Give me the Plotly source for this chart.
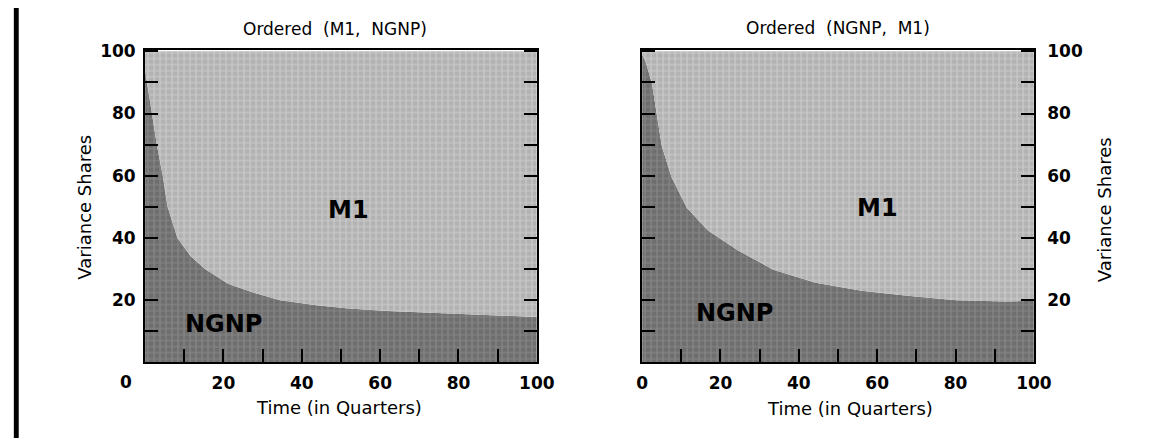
import plotly.graph_objects as go

# ---- data ----
left_title = "Ordered  (M1,  NGNP)"
right_title = "Ordered  (NGNP,  M1)"

left_time = [0, 1, 2, 3, 4.5, 5.75, 8.25, 11.6, 15.3, 21.2, 27, 34.5, 43.7, 52, 62, 77, 89.5, 100]
left_ngnp = [94, 86, 78, 70, 60, 50, 40, 34.2, 30, 25.3, 22.7, 20, 18.4, 17.3, 16.5, 15.7, 15.2, 14.6]

right_time = [0, 0.8, 2.5, 3.7, 5, 7.5, 11.4, 16.8, 24.3, 33.5, 44.3, 56, 67.7, 80.2, 92.7, 100]
right_ngnp = [99, 97, 89.7, 79.6, 69.6, 59.6, 49.7, 42.4, 36.1, 29.8, 25.6, 23, 21.4, 20, 19.6, 19.8]

left_m1 = [100 - v for v in left_ngnp]
right_m1 = [100 - v for v in right_ngnp]

x_tickvals = [0, 10, 20, 30, 40, 50, 60, 70, 80, 90, 100]
x_ticktext = ["0", "", "20", "", "40", "", "60", "", "80", "", "100"]
y_tickvals = [10, 20, 30, 40, 50, 60, 70, 80, 90, 100]
y_ticktext = ["", "20", "", "40", "", "60", "", "80", "", "100"]

W, H = 1165, 438
FONT = "DejaVu Sans"

ngnp_pat = dict(shape="+", bgcolor="#6e6e6e", fgcolor="#a2a2a2", size=6, solidity=0.35)
m1_pat = dict(shape="+", bgcolor="#b2b2b2", fgcolor="#e6e6e6", size=6, solidity=0.35)

fig = go.Figure()
for xa, ya, t, ng, m1, sg in [("x", "y", left_time, left_ngnp, left_m1, "L"),
                             ("x2", "y2", right_time, right_ngnp, right_m1, "R")]:
    fig.add_trace(go.Scatter(x=t, y=ng, xaxis=xa, yaxis=ya, stackgroup=sg, name="NGNP",
                             mode="lines", line=dict(width=0, color="#6e6e6e"),
                             fillcolor="#6e6e6e", fillpattern=ngnp_pat, showlegend=False,
                             hoverinfo="skip"))
    fig.add_trace(go.Scatter(x=t, y=m1, xaxis=xa, yaxis=ya, stackgroup=sg, name="M1",
                             mode="lines", line=dict(width=0, color="#b2b2b2"),
                             fillcolor="#b2b2b2", fillpattern=m1_pat, showlegend=False,
                             hoverinfo="skip"))

tickfont = dict(family=FONT, size=17, color="black", weight="bold")
common_x = dict(range=[0, 100], tickvals=x_tickvals, ticks="inside", ticklen=13, tickwidth=2,
                tickcolor="black", showline=True, linecolor="black", linewidth=2, mirror=True,
                showgrid=False, zeroline=False, tickfont=tickfont, ticklabelstandoff=4)
common_y = dict(range=[0, 100.5], tickvals=y_tickvals, ticktext=y_ticktext, ticks="inside",
                ticklen=13, tickwidth=2, tickcolor="black", showline=True, linecolor="black",
                linewidth=2, mirror="ticks", showgrid=False, zeroline=False, tickfont=tickfont)

ydom = [1 - 361 / H, 1 - 42.5 / H]
fig.update_layout(
    width=W, height=H, margin=dict(l=0, r=0, t=0, b=0),
    paper_bgcolor="white", plot_bgcolor="white",
    xaxis=dict(domain=[142 / W, 542 / W], anchor="y",
               ticktext=[""] + x_ticktext[1:], **common_x),
    yaxis=dict(domain=ydom, anchor="x", side="left", ticklabelstandoff=4, **common_y),
    xaxis2=dict(domain=[649.5 / W, 1049.5 / W], anchor="y2", ticktext=x_ticktext, **common_x),
    yaxis2=dict(domain=ydom, anchor="x2", side="right", ticklabelstandoff=8, **common_y),
)

def ann(text, x, y, size, bold=False, xref="paper", yref="paper", angle=0):
    fig.add_annotation(text=text, x=x, y=y, xref=xref, yref=yref, showarrow=False,
                       textangle=angle, xanchor="center", yanchor="middle",
                       font=dict(family=FONT, size=size, color="black",
                                 weight="bold" if bold else "normal"))

# panel titles
ann(left_title, 336 / W, 1 - 21 / H, 17)
ann(right_title, 849 / W, 1 - 20 / H, 17)
# axis titles
ann("Time (in Quarters)", 340 / W, 1 - 407 / H, 18)
ann("Time (in Quarters)", 862 / W, 1 - 408 / H, 18)
ann("Variance Shares", 80 / W, 1 - 203 / H, 18, angle=-90)
ann("Variance Shares", 1121 / W, 1 - 205 / H, 18, angle=-90)
# left panel '0' tick label sits left of the frame
ann("0", 123 / W, 1 - 381 / H, 17, bold=True)
# region labels
ann("M1", 52, 49, 24, bold=True, xref="x", yref="y")
ann("NGNP", 20, 12.4, 24, bold=True, xref="x", yref="y")
ann("M1", 60, 49.7, 24, bold=True, xref="x2", yref="y2")
ann("NGNP", 23.5, 16, 24, bold=True, xref="x2", yref="y2")

# thick black rule at the left edge of the page
fig.add_shape(type="rect", xref="paper", yref="paper", x0=8 / W, x1=13 / W, y0=0, y1=1,
              fillcolor="black", line=dict(width=0))

fig.write_html("out.html", config={"displayModeBar": False},
               post_script="document.body.style.margin='0';"
                           "document.documentElement.style.overflow='hidden';")
